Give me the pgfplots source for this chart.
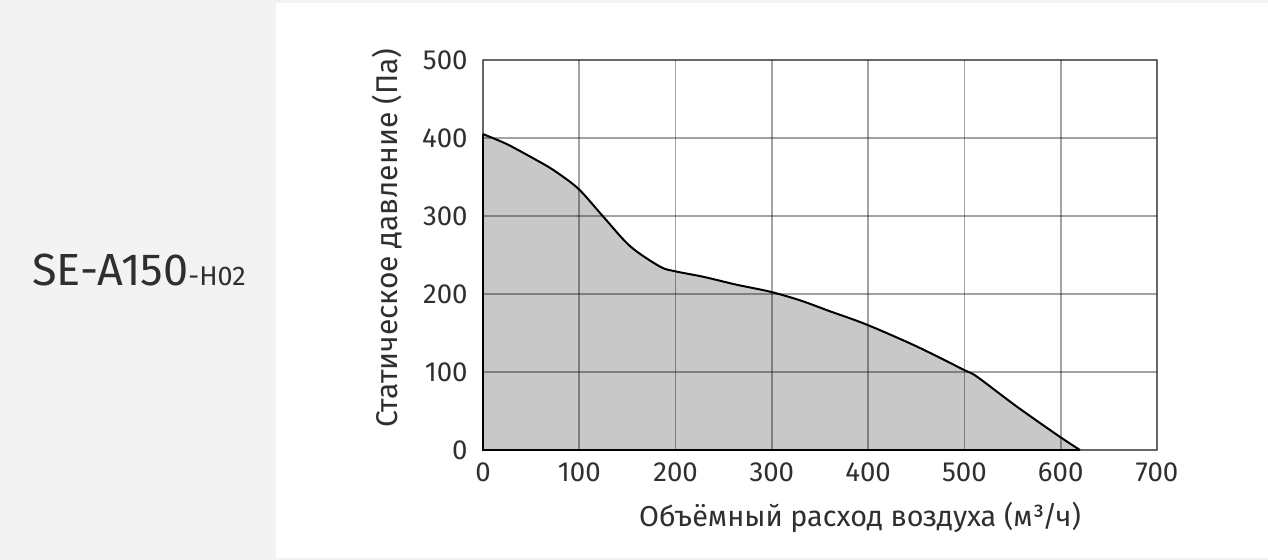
\documentclass[border=0pt]{standalone}
\usepackage{fontspec}
\setmainfont{Fira Sans}
\usepackage{pgfplots}
\pgfplotsset{compat=1.18}
\definecolor{txt}{HTML}{2F2F2F}
\definecolor{bgc}{HTML}{F3F3F3}
\definecolor{fillc}{HTML}{C8C8C8}
\begin{document}
\begin{tikzpicture}
\useasboundingbox (0,0) rectangle (634pt,280pt);
\fill[bgc] (0,0) rectangle (634pt,280pt);
\fill[white] (138pt,1pt) rectangle (634pt,278.5pt);
\node[anchor=base west, inner sep=0pt, text=txt] at (16pt,137pt)
  {\fontsize{22.5}{24}\selectfont SE-A150\fontsize{13.5}{15}\selectfont -H02};
\begin{axis}[
  scale only axis,
  width=337pt, height=195pt,
  at={(241.5pt,55pt)}, anchor=south west,
  xmin=0, xmax=700, ymin=0, ymax=500,
  xtick={0,100,...,700}, ytick={0,100,...,500},
  grid=major,
  major tick length=0pt,
  axis on top,
  grid style={black, opacity=0.36, line width=0.9pt},
  axis line style={black, opacity=0.36, line width=0.9pt},
  /pgf/number format/assume math mode=true,
  tick label style={font=\fontsize{13.8}{15}\selectfont, text=txt},
  yticklabel style={anchor=east, inner sep=0pt, xshift=-7.5pt},
  xticklabel style={anchor=north, inner sep=0pt, yshift=-6pt},
  clip=false,
]
\addplot[fill=fillc, draw=none, smooth] coordinates {
(0,405) (25,392) (55,372) (73,359) (99,335) (125,299) (153,261) (184,235)
(200,229) (229,222) (263,212) (298,203) (329,192) (360,178) (398,161)
(450,133) (499,103) (513,94) (554,56) (599,17) (620,0)
} \closedcycle;
\addplot[draw=black, line width=1pt, smooth] coordinates {
(0,405) (25,392) (55,372) (73,359) (99,335) (125,299) (153,261) (184,235)
(200,229) (229,222) (263,212) (298,203) (329,192) (360,178) (398,161)
(450,133) (499,103) (513,94) (554,56) (599,17) (620,0)
};
\addplot[draw=black, line width=1.2pt] coordinates {(0,405) (0,0) (620,0)};
\end{axis}
\node[rotate=90, anchor=center, inner sep=0pt, text=txt, font=\fontsize{15}{16}\selectfont] at (193.5pt,161pt) {Статическое давление (Па)};
\node[anchor=base, inner sep=0pt, text=txt, font=\fontsize{14.4}{16}\selectfont] at (430pt,16.5pt) {Объёмный расход воздуха (м³/ч)};
\end{tikzpicture}
\end{document}
